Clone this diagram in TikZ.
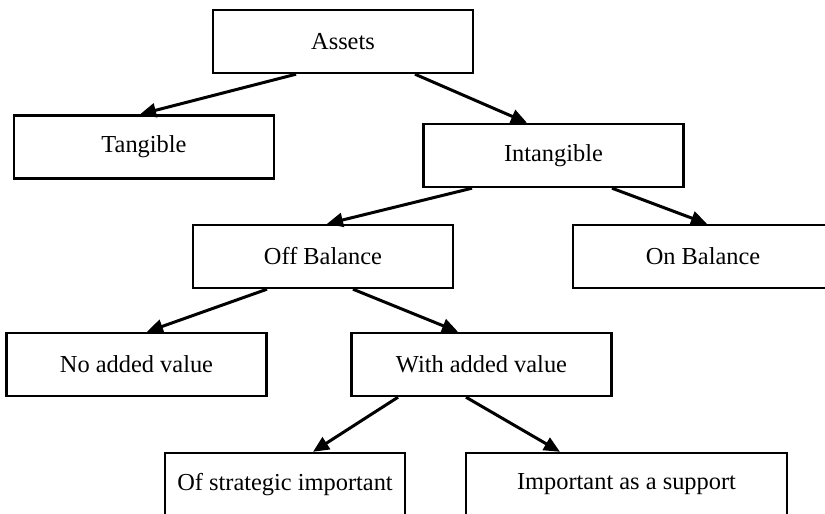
\documentclass[tikz,border=0pt]{standalone}
\usepackage{fontspec}
\setmainfont{Liberation Serif}
\usetikzlibrary{arrows.meta, calc}

\begin{document}
\begin{tikzpicture}[
    x=0.5pt, y=-0.5pt,
    every node/.style={rectangle, draw, line width=1.2pt, minimum width=130pt,
        minimum height=31.5pt, font=\fontsize{12.2}{14}\selectfont, inner sep=0pt},
    arrow/.style={-{Triangle[length=8pt, width=7pt]}, line width=1.5pt}
]
\clip (0,0) rectangle (825,514);

\node (Assets) at (343,41.5) {Assets};
\node (Tangible) at (144,147) {Tangible};
\node (Intangible) at (553.5,155.5) {Intangible};
\node (Off) at (323,256.5) {Off Balance};
\node (On) at (703,256.5) {On Balance};
\node (NoValue) at (136.5,364.5) {No added value};
\node (WithValue) at (481.5,364.5) {With added value};
\node (Strategic) [minimum width=120pt] at (285,484.5) {Of strategic important};
\node (Support) [minimum width=160.5pt] at (626.5,484.5) {Important as a support};

\draw[arrow] ($(Assets.south)+(-47,0)$) -- ($(Tangible.north)+(-4,0)$);
\draw[arrow] ($(Assets.south)+(72,0)$) -- ($(Intangible.north)+(-26.5,0)$);
\draw[arrow] ($(Intangible.south)+(-81.5,0)$) -- ($(Off.north)+(4,0)$);
\draw[arrow] ($(Intangible.south)+(58.5,0)$) -- ($(On.north)+(4,0)$);
\draw[arrow] ($(Off.south)+(-56,0)$) -- ($(NoValue.north)+(10.5,0)$);
\draw[arrow] ($(Off.south)+(30,0)$) -- ($(WithValue.north)+(-23.5,0)$);
\draw[arrow] ($(WithValue.south)+(-83.5,0)$) -- ($(Strategic.north)+(28,0)$);
\draw[arrow] ($(WithValue.south)+(-15.5,0)$) -- ($(Support.north)+(-66.5,0)$);
\end{tikzpicture}
\end{document}
